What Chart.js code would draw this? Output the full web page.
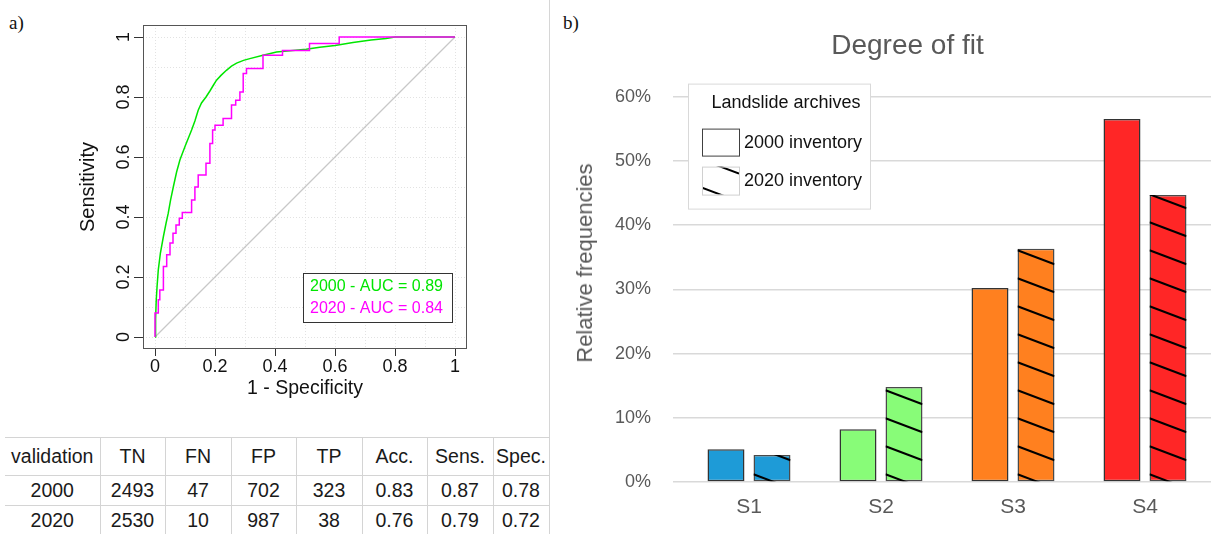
<!DOCTYPE html>
<html>
<head>
<meta charset="utf-8">
<title>ROC curves and degree of fit</title>
<script src="https://cdn.jsdelivr.net/npm/chart.js@4.4.1/dist/chart.umd.min.js"></script>
<style>
  html, body { margin: 0; padding: 0; background: #fff; }
  #page { position: relative; width: 1213px; height: 534px; overflow: hidden; font-family: "Liberation Sans", Arial, sans-serif; }
  .tag { position: absolute; font-family: "Liberation Serif", "Times New Roman", serif; font-size: 19px; line-height: 19px; color: #111; }
  canvas { position: absolute; top: 0; }
  #sep { position: absolute; left: 549px; top: 0; width: 1px; height: 534px; background: #d6d6d6; }
  #ytitle { position: absolute; left: 585px; top: 263px; transform: translate(-50%, -50%) rotate(-90deg); font-size: 22px; color: #595959; white-space: nowrap; }
  #tbl { position: absolute; left: 5px; top: 437px; border-collapse: collapse; table-layout: fixed; width: 544px; font-size: 19.5px; color: #1a1a1a; }
  #tbl td { border: 1px solid #d4d4d4; text-align: center; padding: 0; white-space: nowrap; }
  #tbl td:first-child { border-left: none; }
</style>
</head>
<body>
<div id="page">
  <div class="tag" style="left:9px; top:13px;">a)</div>
  <div class="tag" style="left:563px; top:13px;">b)</div>
  <canvas id="roc" width="549" height="434" style="left:0;"></canvas>
  <div id="sep"></div>
  <canvas id="bars" width="657" height="534" style="left:556px;"></canvas>
  <div id="ytitle">Relative frequencies</div>
  <table id="tbl"></table>
</div>
<script>
Chart.defaults.font.family = '"Liberation Sans", Arial, sans-serif';

// a) ROC curves: 1 - specificity / sensitivity
var fpr2000 = [0, 0.002, 0.004, 0.007, 0.011, 0.018, 0.028, 0.037, 0.044, 0.052, 0.061, 0.072, 0.083, 0.1, 0.112, 0.122, 0.133, 0.144, 0.155, 0.17, 0.183, 0.195, 0.205, 0.22, 0.238, 0.255, 0.272, 0.295, 0.316, 0.36, 0.405, 0.45, 0.504, 0.549, 0.6, 0.66, 0.72, 0.77, 0.8, 1];
var tpr2000 = [0, 0.06, 0.12, 0.17, 0.224, 0.28, 0.335, 0.38, 0.412, 0.457, 0.5, 0.55, 0.59, 0.635, 0.665, 0.69, 0.72, 0.756, 0.78, 0.8, 0.82, 0.84, 0.856, 0.872, 0.889, 0.903, 0.913, 0.922, 0.928, 0.939, 0.95, 0.954, 0.959, 0.966, 0.972, 0.982, 0.99, 0.995, 1, 1];
var fpr2020 = [0, 0, 0.011, 0.016, 0.028, 0.039, 0.05, 0.06, 0.07, 0.081, 0.091, 0.122, 0.133, 0.144, 0.17, 0.183, 0.192, 0.2, 0.227, 0.255, 0.269, 0.283, 0.294, 0.305, 0.36, 0.425, 0.515, 0.614, 1];
var tpr2020 = [0, 0.08, 0.124, 0.157, 0.235, 0.274, 0.313, 0.346, 0.373, 0.396, 0.415, 0.457, 0.5, 0.54, 0.579, 0.645, 0.69, 0.706, 0.728, 0.773, 0.789, 0.817, 0.878, 0.895, 0.939, 0.955, 0.978, 1, 1];
var rocGrid = [0, 0.1, 0.2, 0.3, 0.4, 0.5, 0.6, 0.7, 0.8, 0.9, 1];
var rocTicks = [0, 0.2, 0.4, 0.6, 0.8, 1];
var aucText = ['2000 - AUC = 0.89', '2020 - AUC = 0.84'];

// validation table
var tableHead = ['validation', 'TN', 'FN', 'FP', 'TP', 'Acc.', 'Sens.', 'Spec.'];
var row2000 = ['2000', '2493', '47', '702', '323', '0.83', '0.87', '0.78'];
var row2020 = ['2020', '2530', '10', '987', '38', '0.76', '0.79', '0.72'];

// b) degree of fit, % per susceptibility class
var classes = ['S1', 'S2', 'S3', 'S4'];
var freq2000 = [5.1, 8.2, 30.2, 56.5];
var freq2020 = [4.2, 14.8, 36.3, 44.7];
var pctTicks = [0, 10, 20, 30, 40, 50, 60];
var seriesNames = ['2000 inventory', '2020 inventory'];
var legendTitle = 'Landslide archives';

var classColors = ['#1e9bd7', '#88fc78', '#ff801f', '#ff2626'];
var green = '#00e600', magenta = '#ff00ff';

function toPoints(xs, ys) {
  return xs.map(function(x, i) { return {x: x, y: ys[i]}; });
}
function isMajor(v) {
  return rocTicks.indexOf(Math.round(v * 10) / 10) !== -1;
}
function setTicks(list) {
  return function(s) { s.ticks = list.map(function(v) { return {value: v}; }); };
}

// table
var tbl = document.getElementById('tbl');
var colWidths = [95, 65, 66, 65, 66, 65, 66, 56];
var rowHeights = [38, 30, 30];
var cg = document.createElement('colgroup');
colWidths.forEach(function(w) {
  var c = document.createElement('col');
  c.style.width = w + 'px';
  cg.appendChild(c);
});
tbl.appendChild(cg);
[tableHead, row2000, row2020].forEach(function(r, i) {
  var tr = tbl.insertRow();
  tr.style.height = rowHeights[i] + 'px';
  r.forEach(function(t) { tr.insertCell().textContent = t; });
});

// frame, rotated y labels and AUC legend, R style
var rocFrame = {
  id: 'rocFrame',
  afterDraw: function(chart) {
    var ctx = chart.ctx, a = chart.chartArea, ys = chart.scales.y;
    ctx.save();
    ctx.strokeStyle = '#555';
    ctx.lineWidth = 1;
    ctx.strokeRect(a.left + 0.5, a.top + 0.5, a.right - a.left - 1, a.bottom - a.top - 1);

    ctx.fillStyle = '#111';
    ctx.font = '18px "Liberation Sans", Arial, sans-serif';
    ctx.textAlign = 'center';
    ctx.textBaseline = 'middle';
    rocTicks.forEach(function(v) {
      ctx.save();
      ctx.translate(a.left - 19, ys.getPixelForValue(v));
      ctx.rotate(-Math.PI / 2);
      ctx.fillText(String(v), 0, 0);
      ctx.restore();
    });

    var w = 149, h = 49, x = a.right - 15 - w, y = a.bottom - 27 - h;
    ctx.fillStyle = '#fff';
    ctx.fillRect(x, y, w, h);
    ctx.strokeStyle = '#333';
    ctx.strokeRect(x + 0.5, y + 0.5, w, h);
    ctx.font = '16px "Liberation Sans", Arial, sans-serif';
    ctx.textAlign = 'left';
    [green, magenta].forEach(function(c, i) {
      ctx.fillStyle = c;
      ctx.fillText(aucText[i], x + 7, y + 14 + i * 22);
    });
    ctx.restore();
  }
};

var rocChart = new Chart(document.getElementById('roc'), {
  type: 'line',
  data: {
    datasets: [
      {label: '2020', data: toPoints(fpr2020, tpr2020), borderColor: magenta, borderWidth: 1.5, stepped: 'before', pointRadius: 0, order: 1},
      {label: '2000', data: toPoints(fpr2000, tpr2000), borderColor: green, borderWidth: 1.5, pointRadius: 0, order: 2},
      {label: 'chance', data: [{x: 0, y: 0}, {x: 1, y: 1}], borderColor: '#c8c8c8', borderWidth: 1.2, pointRadius: 0, order: 3}
    ]
  },
  options: {
    responsive: false,
    animation: false,
    devicePixelRatio: 1,
    layout: {padding: {left: 0, right: 82, top: 25, bottom: 0}},
    plugins: {legend: {display: false}, tooltip: {enabled: false}},
    scales: {
      x: {
        type: 'linear', min: -0.04, max: 1.04,
        afterBuildTicks: setTicks(rocGrid),
        afterFit: function(s) { s.height = 85; },
        grid: {color: '#e2e2e2', tickLength: 7, tickColor: function(c) { return isMajor(c.tick.value) ? '#333' : 'rgba(0,0,0,0)'; }},
        border: {display: false, dash: [1, 2]},
        ticks: {color: '#111', font: {size: 18}, padding: 0, maxRotation: 0, autoSkip: false,
          callback: function(v) { return isMajor(v) ? String(Math.round(v * 10) / 10) : ''; }},
        title: {display: true, text: '1 - Specificity', color: '#111', font: {size: 19.5}, padding: {bottom: 34}}
      },
      y: {
        type: 'linear', min: -0.04, max: 1.04,
        afterBuildTicks: setTicks(rocGrid),
        afterFit: function(s) { s.width = 143; },
        grid: {color: '#e2e2e2', tickLength: 9, tickColor: function(c) { return isMajor(c.tick.value) ? '#333' : 'rgba(0,0,0,0)'; }},
        border: {display: false, dash: [1, 2]},
        ticks: {display: false},
        title: {display: true, text: 'Sensitivity', color: '#111', font: {size: 20}, padding: {top: 76}}
      }
    }
  },
  plugins: [rocFrame]
});

// diagonal hatch used by the 2020 bars
function hatch(ctx, left, right, top, bottom, base) {
  var w = right - left, drop = w * 0.38;
  ctx.save();
  ctx.beginPath();
  ctx.rect(left, top, w, bottom - top);
  ctx.clip();
  ctx.strokeStyle = '#000';
  ctx.lineWidth = 2;
  for (var y = base - 7; y + drop > top - 2; y -= 28) {
    ctx.beginPath();
    ctx.moveTo(left, y);
    ctx.lineTo(right, y + drop);
    ctx.stroke();
  }
  ctx.restore();
}

var barExtras = {
  id: 'barExtras',
  afterDatasetsDraw: function(chart) {
    var ctx = chart.ctx, a = chart.chartArea;
    chart.getDatasetMeta(1).data.forEach(function(bar) {
      var p = bar.getProps(['x', 'y', 'base', 'width'], true);
      hatch(ctx, p.x - p.width / 2, p.x + p.width / 2, p.y, p.base, p.base);
    });

    var lx = a.left + 5, ly = a.top - 13, lw = 182, lh = 125;
    ctx.save();
    ctx.fillStyle = '#fff';
    ctx.fillRect(lx, ly, lw, lh);
    ctx.strokeStyle = '#d9d9d9';
    ctx.lineWidth = 1;
    ctx.strokeRect(lx + 0.5, ly + 0.5, lw, lh);

    ctx.fillStyle = '#111';
    ctx.font = '18px "Liberation Sans", Arial, sans-serif';
    ctx.textBaseline = 'middle';
    ctx.textAlign = 'center';
    ctx.fillText(legendTitle, lx + 98, ly + 19);

    var bx = lx + 14, bw = 37;
    ctx.fillStyle = '#fff';
    ctx.fillRect(bx, ly + 45, bw, 27);
    ctx.strokeStyle = '#404040';
    ctx.strokeRect(bx + 0.5, ly + 45.5, bw, 27);
    ctx.fillRect(bx, ly + 83, bw, 28);
    hatch(ctx, bx, bx + bw, ly + 83, ly + 111, ly + 111);
    ctx.strokeStyle = '#d0d0d0';
    ctx.strokeRect(bx + 0.5, ly + 83.5, bw, 28);

    ctx.fillStyle = '#111';
    ctx.textAlign = 'left';
    ctx.fillText(chart.data.datasets[0].label, lx + 56, ly + 59);
    ctx.fillText(chart.data.datasets[1].label, lx + 56, ly + 97);
    ctx.restore();
  }
};

var barChart = new Chart(document.getElementById('bars'), {
  type: 'bar',
  data: {
    labels: classes,
    datasets: [
      {label: seriesNames[0], data: freq2000, backgroundColor: classColors, borderColor: '#333', borderWidth: 1.5, borderSkipped: false},
      {label: seriesNames[1], data: freq2020, backgroundColor: classColors, borderColor: '#4a4a4a', borderWidth: 1.5, borderSkipped: false}
    ]
  },
  options: {
    responsive: false,
    animation: false,
    devicePixelRatio: 1,
    barPercentage: 0.804,
    categoryPercentage: 0.697,
    layout: {padding: {left: 48, right: 2, top: 0, bottom: 0}},
    plugins: {
      legend: {display: false},
      tooltip: {enabled: false},
      title: {display: true, text: 'Degree of fit', color: '#595959', font: {size: 28, weight: 'normal'}, padding: {top: 29, bottom: 34}}
    },
    scales: {
      x: {
        grid: {display: false, drawTicks: false},
        border: {display: false},
        afterFit: function(s) { s.height = 52; },
        ticks: {color: '#595959', font: {size: 21}, padding: 13}
      },
      y: {
        min: 0, max: 60,
        afterBuildTicks: setTicks(pctTicks),
        afterFit: function(s) { s.width = 79; },
        grid: {color: '#d9d9d9', lineWidth: 1.5, tickLength: 10, tickColor: '#d9d9d9'},
        border: {display: false},
        ticks: {color: '#595959', font: {size: 18}, padding: 22, callback: function(v) { return v + '%'; }}
      }
    }
  },
  plugins: [barExtras]
});
</script>
</body>
</html>
